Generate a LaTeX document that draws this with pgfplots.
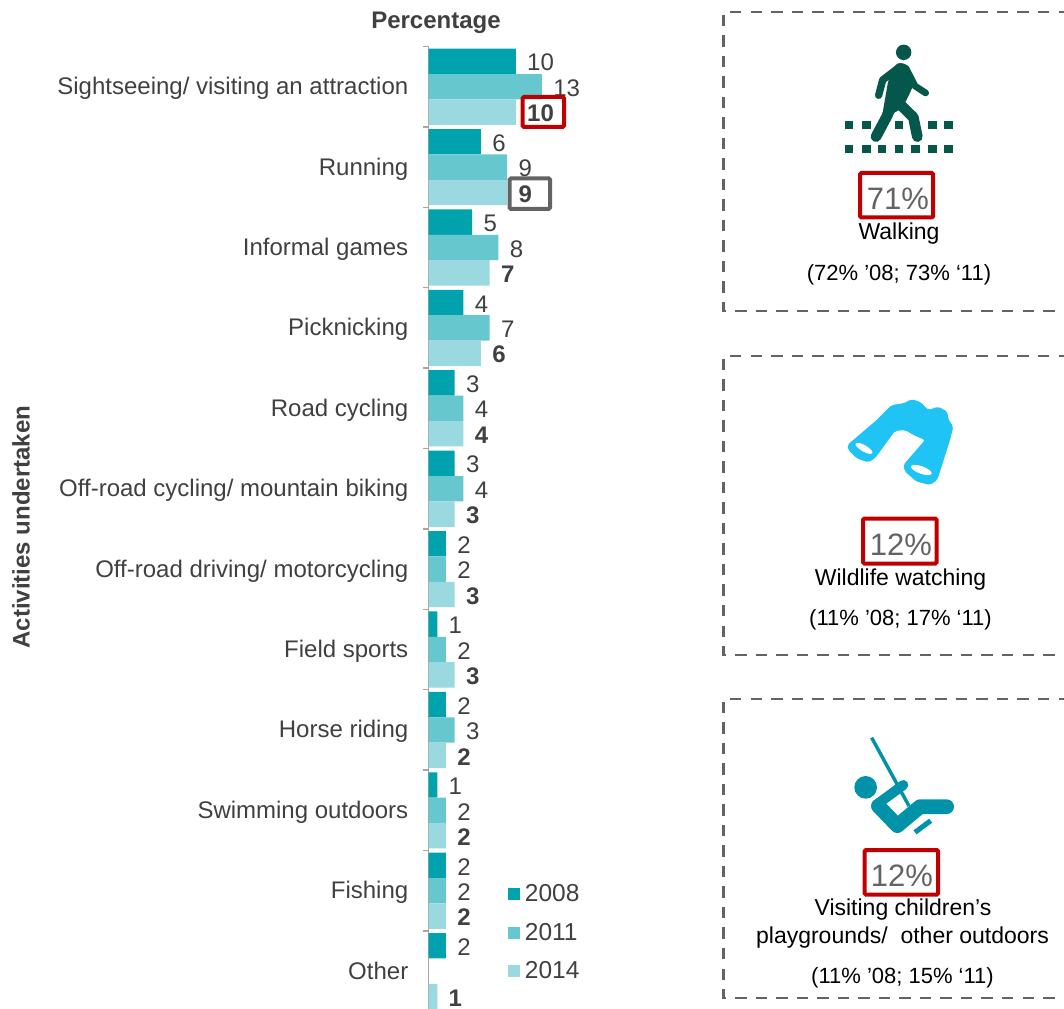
\documentclass[border=0pt]{standalone}
\usepackage{fontspec}
\setmainfont{Liberation Sans}
\usepackage{pgfplots}
\pgfplotsset{compat=1.18}
\definecolor{cA}{HTML}{00A3AD}
\definecolor{cB}{HTML}{66C7CE}
\definecolor{cC}{HTML}{99D9DF}
\definecolor{txt}{HTML}{404040}
\definecolor{boxg}{HTML}{636363}
\definecolor{boxr}{HTML}{C00000}
\definecolor{walk}{HTML}{04574A}
\definecolor{bino}{HTML}{1FC4F5}
\definecolor{swing}{HTML}{0092A8}
\newcommand{\fpx}[1]{\fontsize{\dimexpr#1pt*3/4\relax}{\dimexpr#1pt*9/10\relax}\selectfont}
\begin{document}
\begin{tikzpicture}
\path[use as bounding box, clip] (0,0) rectangle (798pt,-756.75pt);
\begin{axis}[
  at={(321.4pt,-34.9pt)}, anchor=north west,
  scale only axis, width=92.25pt, height=723.6pt,
  xmin=0, xmax=14.1, ymin=-0.5, ymax=11.5, y dir=reverse,
  xbar, bar width=19.05pt,
  hide x axis,
  axis y line=left,
  axis line style={-, draw=black!35, line width=1.1pt},
  clip=false,
  ytick={0,1,2,3,4,5,6,7,8,9,10,11},
  yticklabels={Sightseeing/ visiting an attraction,Running,Informal games,Picknicking,Road cycling,Off-road cycling/ mountain biking,Off-road driving/ motorcycling,Field sports,Horse riding,Swimming outdoors,Fishing,Other},
  minor ytick={-0.5,0.5,1.5,2.5,3.5,4.5,5.5,6.5,7.5,8.5,9.5,10.5,11.5},
  major tick length=0pt,
  minor tick length=4.5pt,
  tick align=outside,
  minor tick style={draw=black!35, line width=1pt},
  yticklabel style={anchor=base east, inner sep=0pt, xshift=-15pt, yshift=-6pt, text=txt, font=\fpx{24}},
  nodes near coords,
  /pgf/number format/assume math mode=true,
  nodes near coords align={horizontal},
  every node near coord/.append style={anchor=west, inner sep=0pt, xshift=8.4pt, yshift=-1pt, text=txt, font=\fpx{24}},
  legend style={at={(0.646,0.1345)}, anchor=north west, draw=none, fill=none, inner sep=0pt,
    row sep=10.5pt, font=\fpx{24.5}, text=txt, cells={anchor=west}},
  legend cell align=left,
  legend image code/.code={\fill[#1] (0pt,-4.5pt) rectangle (9pt,4.5pt); \path (10.5pt,0pt);},
]
\addplot[fill=cA, draw=none, bar shift=19.05pt] coordinates {(10,0)(6,1)(5,2)(4,3)(3,4)(3,5)(2,6)(1,7)(2,8)(1,9)(2,10)(2,11)};
\addplot[fill=cB, draw=none, bar shift=0pt] coordinates {(13,0)(9,1)(8,2)(7,3)(4,4)(4,5)(2,6)(2,7)(3,8)(2,9)(2,10)};
\addplot[fill=cC, draw=none, bar shift=-19.05pt, every node near coord/.append style={font=\fpx{24}\bfseries}] coordinates {(10,0)(9,1)(7,2)(6,3)(4,4)(3,5)(3,6)(3,7)(2,8)(2,9)(2,10)(1,11)};
\legend{2008,2011,2014}
\end{axis}
\begin{scope}[x=.75pt,y=-.75pt]
\node[font=\fpx{24}\bfseries, text=txt] at (436,23) {Percentage};
\node[font=\fpx{24}\bfseries, text=txt, rotate=90] at (21,527) {Activities undertaken};
% highlight boxes on the chart
\draw[boxr, line width=3pt, rounded corners=1pt] (522.5,97) rectangle (564,127);
\draw[boxg, line width=3pt, rounded corners=1pt] (509.5,178.5) rectangle (550,209);
% dashed panels
\foreach \t/\b in {12/311,356/655,699/998}{
  \draw[boxg, line width=1.9pt, dash pattern=on 8.6pt off 6.8pt] (1070,\t) -- (723.5,\t) -- (723.5,\b) -- (1070,\b);
}
% panel text
\draw[boxr, line width=3pt, rounded corners=1pt] (860,173) rectangle (933,217.5);
\node[font=\fpx{31}, text=boxg] at (898,199) {71\%};
\node[font=\fpx{23}, text=black] at (899,234) {Walking};
\node[font=\fpx{22}, text=black] at (899,275) {(72\% ’08; 73\% ‘11)};
\draw[boxr, line width=3pt, rounded corners=1pt] (863,518.5) rectangle (936.5,563.5);
\node[font=\fpx{31}, text=boxg] at (901,545) {12\%};
\node[font=\fpx{23}, text=black] at (900.5,580) {Wildlife watching};
\node[font=\fpx{22}, text=black] at (900.5,620) {(11\% ’08; 17\% ‘11)};
\draw[boxr, line width=3pt, rounded corners=1pt] (864.5,850) rectangle (938,894.5);
\node[font=\fpx{31}, text=boxg] at (902,876) {12\%};
\node[font=\fpx{23}, text=black] at (903,910) {Visiting children’s};
\node[font=\fpx{23}, text=black] at (902.5,938) {playgrounds/\ \ other outdoors};
\node[font=\fpx{22}, text=black] at (902.5,978) {(11\% ’08; 15\% ‘11)};
\end{scope}
% walker (coordinates in zoomed pixels)
\begin{scope}[shift={(525pt,0pt)}, x=.25pt, y=-.25pt]
\fill[walk] (611,157) circle (5.8pt);
\foreach \x in {435,487,585,685,733} \fill[walk] (\x,363) rectangle ++(25,25);
\foreach \x in {435,487,534,585,634,685,733} \fill[walk] (\x,435) rectangle ++(25,25);
\draw[walk, line width=5.5pt, line cap=round, line join=round] (536,286) -- (548,240) -- (600,200);
\draw[walk, line width=5pt, line cap=round, line join=round] (618,205) -- (645,258) -- (677,279);
\fill[walk, rounded corners=3pt] (590,188) -- (622,192) -- (645,245) -- (620,300) -- (600,330) -- (545,355) -- (565,240) -- cycle;
\draw[walk, line width=8pt, line cap=round, line join=round] (578,310) -- (560,350) -- (528,410);
\draw[walk, line width=8pt, line cap=round, line join=round] (592,305) -- (640,352) -- (652,410);
\end{scope}
% binoculars
\begin{scope}[shift={(525pt,-255pt)}, x=.25pt, y=-.25pt]
\fill[bino, rounded corners=1.5pt] (442,315) -- (530,240) -- (575,195) -- (610,190) -- (635,178) -- (660,185) -- (685,210) -- (715,200) -- (742,215) -- (745,238) -- (760,260) -- (750,300) -- (712,420) -- (690,435) -- (650,425) -- (615,395) -- (610,375) -- (675,300) -- (640,285) -- (615,270) -- (585,273) -- (525,355) -- (505,367) -- (470,355) -- (445,330) -- cycle;
\fill[white] (492,325) ellipse [x radius=7.2pt, y radius=2.4pt, rotate=-30];
\fill[white] (664,390) ellipse [x radius=8.2pt, y radius=2.8pt, rotate=-20];
\end{scope}
% swing
\begin{scope}[shift={(525pt,-510pt)}, x=.25pt, y=-.25pt]
\draw[swing, line width=2.6pt] (515,173) -- (627,378);
\fill[swing] (497,322) circle (8.5pt);
\draw[swing, line width=7.5pt, line cap=round, line join=round] (610,315) -- (535,370);
\draw[swing, line width=11pt, line cap=round, line join=round] (535,378) -- (592,437) -- (660,380) -- (740,380);
\draw[swing, line width=3.8pt] (645,457) -- (692,422);
\end{scope}
\end{tikzpicture}
\end{document}
